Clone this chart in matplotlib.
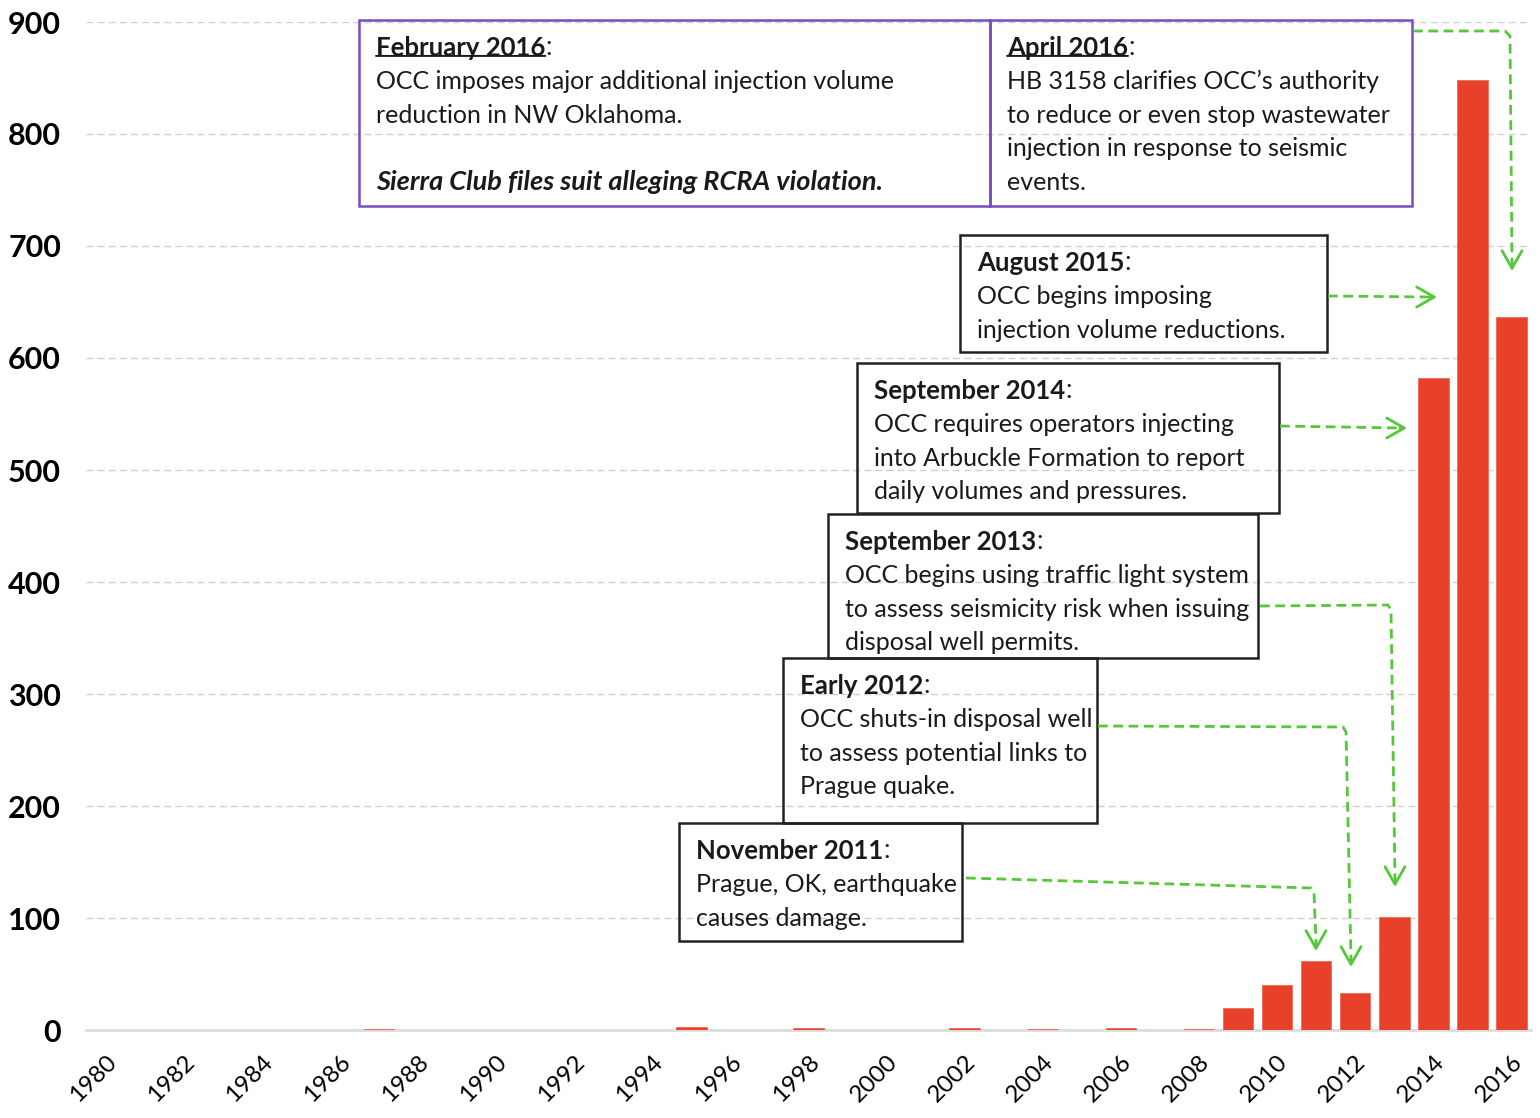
import matplotlib
matplotlib.use("Agg")
import matplotlib.pyplot as plt
from matplotlib.patches import Rectangle
from matplotlib.transforms import Affine2D
import numpy as np

# ---------------- data ----------------
years = list(range(1980, 2017))
counts = [0, 0, 0, 0, 0, 0, 0, 1, 0, 0,
          0, 0, 0, 0, 0, 3, 0, 0, 2, 0,
          0, 0, 2, 0, 1, 0, 2, 0, 1, 20,
          40, 62, 33, 101, 582, 848, 637]
year_ticks = list(range(1980, 2017, 2))
y_ticks = list(range(0, 901, 100))

# annotation texts: (title, underline, body lines, frame colour)
notes = [
    ("February 2016", True,
     ["OCC imposes major additional injection volume",
      "reduction in NW Oklahoma.", "", None], "#7B4CC0"),
    ("April 2016", True,
     ["HB 3158 clarifies OCC\u2019s authority",
      "to reduce or even stop wastewater",
      "injection in response to seismic", "events."], "#7B4CC0"),
    ("August 2015", False,
     ["OCC begins imposing", "injection volume reductions."], "#222222"),
    ("September 2014", False,
     ["OCC requires operators injecting",
      "into Arbuckle Formation to report",
      "daily volumes and pressures."], "#222222"),
    ("September 2013", False,
     ["OCC begins using traffic light system",
      "to assess seismicity risk when issuing",
      "disposal well permits."], "#222222"),
    ("Early 2012", False,
     ["OCC shuts-in disposal well",
      "to assess potential links to",
      "Prague quake."], "#222222"),
    ("November 2011", False,
     ["Prague, OK, earthquake", "causes damage."], "#222222"),
]
italic_line = "Sierra Club files suit alleging RCRA violation."

# ---------------- layout (reference pixels) ----------------
W, H = 1540, 1118
boxes = [  # x0, y0, x1, y1 in pixel coords (top-left origin)
    (359, 20, 990, 206),
    (990, 20, 1412, 206),
    (960, 235, 1327, 352),
    (857, 363, 1279, 513),
    (828, 514, 1258, 658),
    (783, 658, 1097, 823),
    (679, 823, 962, 941),
]
line_h = 33.6
arrows = [
    [(1413, 31), (1505, 31), (1510, 36), (1512, 262)],
    [(1328, 296), (1430, 297)],
    [(1280, 426), (1400, 428)],
    [(1260, 606), (1388, 605), (1391, 610), (1395, 878)],
    [(1098, 726), (1343, 727), (1346, 732), (1351, 958)],
    [(966, 878), (1311, 888), (1314, 893), (1316, 942)],
]
arrow_ends = [(1512, 271), (1437, 297), (1407, 428), (1395, 887), (1351, 967), (1316, 951)]

GREEN = "#55C83A"
RED = "#E8412A"
FONT = "Lato"

plt.rcParams["font.family"] = [FONT, "DejaVu Sans"]

fig = plt.figure(figsize=(W / 100, H / 100), dpi=100)
ax = fig.add_axes([86 / W, 1 - 1030 / H, (1531 - 86) / W, (1030 - 22) / H])

ax.bar(years, counts, width=0.78, color=RED, edgecolor="#EE6A55",
       linewidth=0.6, zorder=3)
ax.set_xlim(1979.5, 2016.5)
ax.set_ylim(0, 900)
ax.set_yticks(y_ticks)
ax.set_yticklabels([str(v) for v in y_ticks], fontsize=22, fontweight="bold")
ax.set_xticks(year_ticks)
ax.set_xticklabels([str(v) for v in year_ticks], rotation=45, ha="right",
                   va="top", rotation_mode="anchor", fontsize=17.5)
ax.tick_params(axis="both", length=0)
ax.tick_params(axis="y", pad=18)
ax.tick_params(axis="x", pad=15)
ax.grid(axis="y", color="#D0D0D0", linestyle=(0, (5, 3)), linewidth=1.0, zorder=0)
for s in ["top", "right", "left"]:
    ax.spines[s].set_visible(False)
ax.spines["bottom"].set_color("#DDDDDD")
ax.spines["bottom"].set_linewidth(2)
ax.spines["bottom"].set_zorder(1)

# pixel transform (top-left origin)
pt = Affine2D().scale(1 / W, -1 / H).translate(0, 1) + fig.transFigure

TXT = 18
TTL = 18.5
for (title, under, body, col), (x0, y0, x1, y1) in zip(notes, boxes):
    fig.patches.append(Rectangle((x0, y0), x1 - x0, y1 - y0, transform=pt,
                                 fill=False, edgecolor=col, linewidth=1.8))
    tx = x0 + 17
    ty = y0 + 28
    t = fig.text(tx, ty, title, transform=pt, fontsize=TTL, fontweight="bold",
                 va="center", ha="left", color="#1a1a1a")
    c = matplotlib.text.Annotation(
        ":", xy=(1, 0), xycoords=t, va="bottom", ha="left",
        fontsize=TTL, color="#1a1a1a")
    c.set_figure(fig)
    fig.texts.append(c)
    if under:
        ann = matplotlib.text.Annotation(
            "", xy=(0, 0.17), xycoords=t, xytext=(1, 0.17), textcoords=t,
            arrowprops=dict(arrowstyle="-", lw=1.4, color="#1a1a1a",
                            shrinkA=0, shrinkB=0))
        ann.set_figure(fig)
        fig.texts.append(ann)
    for i, ln in enumerate(body):
        yy = ty + line_h * (i + 1)
        if ln is None:
            fig.text(tx, yy, italic_line, transform=pt, fontsize=19.5,
                     fontweight="bold", fontstyle="italic", va="center",
                     ha="left", color="#1a1a1a")
        elif ln:
            fig.text(tx, yy, ln, transform=pt, fontsize=TXT, va="center",
                     ha="left", color="#1a1a1a")

for path, end in zip(arrows, arrow_ends):
    xs = [p[0] for p in path]
    ys = [p[1] for p in path]
    fig.lines.append(matplotlib.lines.Line2D(
        xs, ys, transform=pt, color=GREEN, linewidth=2.0,
        linestyle=(0, (3.5, 2))))
    last = path[-1]
    ann = matplotlib.text.Annotation(
        "", xy=end, xycoords=pt, xytext=last, textcoords=pt,
        arrowprops=dict(arrowstyle="->,head_length=0.7,head_width=0.4",
                        lw=2.0, color=GREEN, shrinkA=0, shrinkB=0,
                        mutation_scale=18))
    ann.set_figure(fig)
    fig.texts.append(ann)

fig.savefig("out.png", dpi=100)
